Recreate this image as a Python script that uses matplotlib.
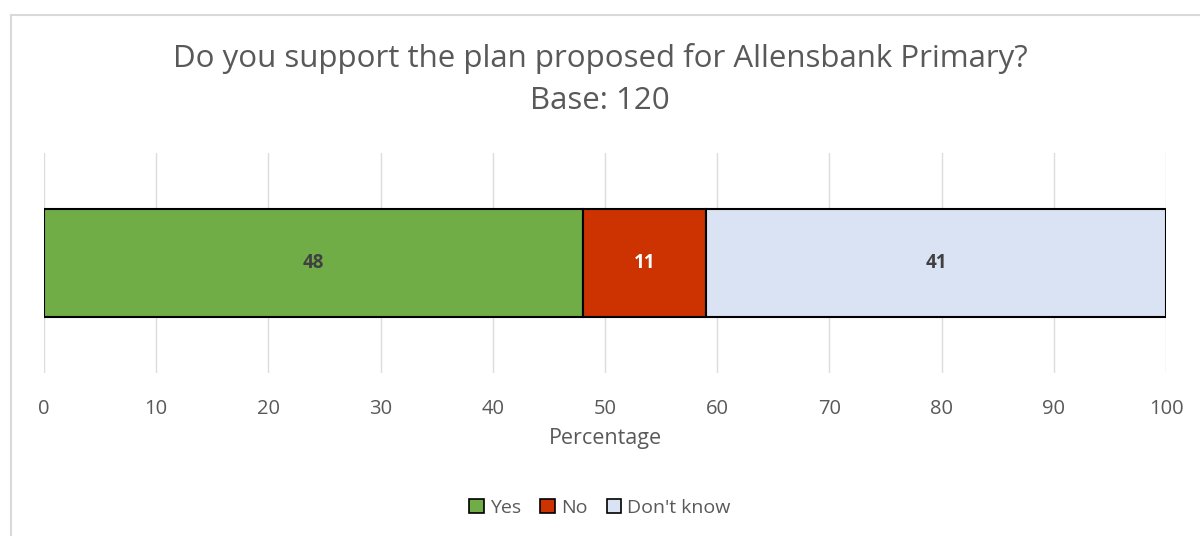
import matplotlib
matplotlib.use('Agg')
import matplotlib.pyplot as plt
from matplotlib.lines import Line2D
from matplotlib.patches import Patch

# survey answers, in percent
categories = ['Yes', 'No', "Don't know"]
values = [48, 11, 41]
colors = ['#70ad47', '#cc3300', '#dae3f3']
label_colors = ['#404040', '#ffffff', '#404040']
ticks = list(range(0, 101, 10))

title = 'Do you support the plan proposed for Allensbank Primary?\nBase: 120'

plt.rcParams['font.family'] = ['Open Sans', 'DejaVu Sans']

fig = plt.figure(figsize=(12, 5.36), dpi=100)
ax = fig.add_axes([44 / 1200, 1 - 373 / 536, (1166 - 44) / 1200, 220 / 536])

# stacked horizontal bar
left = 0
for cat, val, col, lc in zip(categories, values, colors, label_colors):
    ax.barh(0, val, left=left, height=0.49, color=col, edgecolor='black',
            linewidth=1.5, label=cat, zorder=3)
    ax.text(left + val / 2, 0, str(val), ha='center', va='center',
            fontsize=13.5, fontweight='bold', color=lc, zorder=4)
    left += val

ax.set_xlim(0, 100)
ax.set_ylim(-0.5, 0.5)
ax.set_xticks(ticks)
ax.set_yticks([])
ax.grid(axis='x', color='#dcdcdc', linewidth=1.0, zorder=0)
for s in ax.spines.values():
    s.set_visible(False)
ax.tick_params(axis='x', length=0, pad=19, labelsize=14.5, labelcolor='#595959')
ax.set_xlabel('Percentage', fontsize=15.5, color='#595959', labelpad=6)

lines = title.split('\n')
fig.text(0.5, 1 - 58 / 536, lines[0], ha='center', va='center',
         fontsize=22.5, color='#595959')
fig.text(0.5, 1 - 101 / 536, lines[1], ha='center', va='center',
         fontsize=22.5, color='#595959')

handles = [Patch(facecolor=c, edgecolor='black', linewidth=1.2, label=cat)
           for cat, c in zip(categories, colors)]
fig.legend(handles=handles, loc='center', bbox_to_anchor=(0.5, 1 - 508 / 536),
           ncol=3, frameon=False, fontsize=14, handlelength=0.75,
           handleheight=0.75, handletextpad=0.3, columnspacing=1.0,
           labelcolor='#595959')

# outer chart border (top and left only)
fig.add_artist(Line2D([11 / 1200, 11 / 1200], [0, 1 - 15 / 536],
                      transform=fig.transFigure, color='#d9d9d9', linewidth=1.5))
fig.add_artist(Line2D([11 / 1200, 1], [1 - 15 / 536, 1 - 15 / 536],
                      transform=fig.transFigure, color='#d9d9d9', linewidth=1.5))

fig.savefig('out.png', dpi=100)
